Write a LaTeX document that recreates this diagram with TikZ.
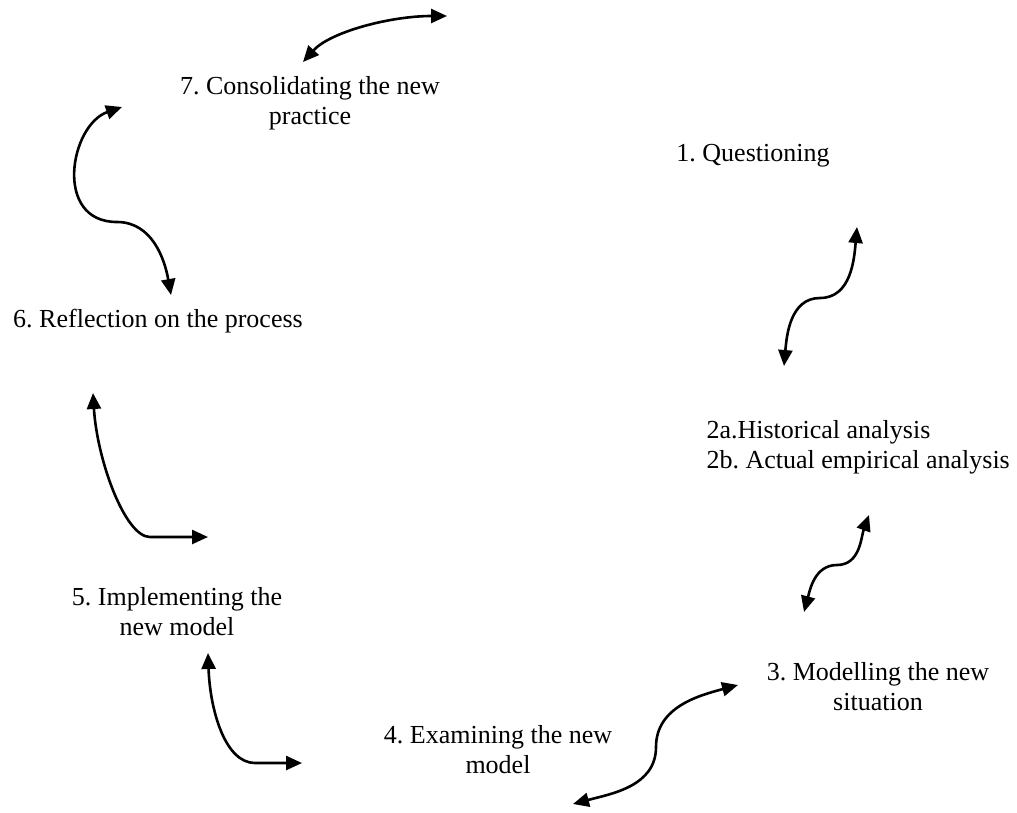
\documentclass[tikz,border=0pt]{standalone}
\usepackage{fontspec}
\setmainfont{Liberation Serif}
\usetikzlibrary{arrows.meta}
\frenchspacing
\begin{document}
\begin{tikzpicture}[x=1pt,y=-1pt,
  stage/.style={inner sep=0pt,align=center,font=\fontsize{26}{30}\selectfont},
  link/.style={line width=2.6pt,{Triangle[length=16pt,width=14pt]}-{Triangle[length=16pt,width=14pt]}}]
\useasboundingbox (0,0) rectangle (1017,812);

% stages of the cycle
\node[stage] (s7) at (310,103) {7. Consolidating the new\\practice};
\node[stage] (s1) at (753,156) {1. Questioning};
\node[stage] (s6) at (158,321) {6. Reflection on the process};
\node[stage,align=left,anchor=east] (s2) at (1010,447) {2a.Historical analysis\\2b. Actual empirical analysis};
\node[stage] (s5) at (177,612) {5. Implementing the\\new model};
\node[stage] (s3) at (878,687) {3. Modelling the new\\situation};
\node[stage] (s4) at (498,750) {4. Examining the new\\model};

% free ends and bends of the two-way connectors
\coordinate (a1) at (303,62);   \coordinate (a2) at (447,16);
\coordinate (b1) at (122,107);  \coordinate (bm) at (117,222);  \coordinate (b2) at (171,295);
\coordinate (c1) at (784,366);  \coordinate (cm) at (820,298);  \coordinate (c2) at (857,227);
\coordinate (d1) at (804,612);  \coordinate (dm) at (837,565);  \coordinate (d2) at (869,515);
\coordinate (e1) at (93,393);   \coordinate (em) at (150,537);  \coordinate (e2) at (208,537);
\coordinate (f1) at (208,653);  \coordinate (fm) at (255,763);  \coordinate (f2) at (302,763);
\coordinate (g1) at (573,804);  \coordinate (gm) at (656,747);  \coordinate (g2) at (738,685);

% two-way connectors
\draw[link] (a1) .. controls (330,32) and (390,16) .. (a2);
\draw[link] (b1) .. controls (70,125) and (53,222) .. (bm) to[out=0,in=100] (b2);
\draw[link] (c1) to[out=85,in=180] (cm) to[out=0,in=-95] (c2);
\draw[link] (d1) to[out=75,in=180] (dm) to[out=0,in=-110] (d2);
\draw[link] (e1) .. controls (97,460) and (125,537) .. (em) -- (e2);
\draw[link] (f1) .. controls (210,710) and (225,763) .. (fm) -- (f2);
\draw[link] (g1) to[out=15,in=-90] (gm) to[out=90,in=195] (g2);
\end{tikzpicture}
\end{document}
